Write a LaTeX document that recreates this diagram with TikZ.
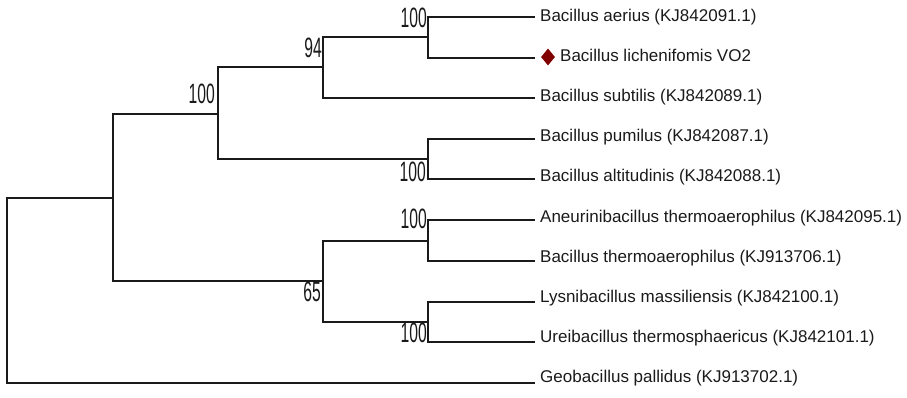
\documentclass[tikz,border=0pt]{standalone}
\usepackage{fontspec}
\setmainfont{Liberation Sans}
\usetikzlibrary{shapes.geometric}
\definecolor{ink}{HTML}{1A1A1A}
\definecolor{mark}{HTML}{800000}
\tikzset{
  branch/.style={draw=ink, line width=2pt, line cap=rect},
  taxon/.style={anchor=base west, inner sep=0pt, text=ink, font=\fontsize{17}{20}\selectfont},
  boot/.style={anchor=east, inner sep=0pt, text=ink, xscale=0.56, font=\fontsize{28}{28}\selectfont},
  gem/.style={diamond, fill=mark, inner sep=0pt, minimum width=14pt, minimum height=17pt}
}
\begin{document}
\begin{tikzpicture}[x=1pt,y=-1pt]
\useasboundingbox (0,0) rectangle (907,397);
% leaf tips
\coordinate (l0) at (534,17);
\coordinate (l1) at (534,58);
\coordinate (l2) at (534,98);
\coordinate (l3) at (534,139);
\coordinate (l4) at (534,179);
\coordinate (l5) at (534,220);
\coordinate (l6) at (534,261);
\coordinate (l7) at (534,302);
\coordinate (l8) at (534,342);
\coordinate (l9) at (534,383);
% internal nodes
\coordinate (D) at (428,37);
\coordinate (C) at (323,67);
\coordinate (E) at (428,159);
\coordinate (B) at (218,114);
\coordinate (G) at (428,241);
\coordinate (H) at (428,322);
\coordinate (F) at (323,281);
\coordinate (A) at (113,198);
\coordinate (R) at (7,290);
% branches
\draw[branch] (D) |- (l0);
\draw[branch] (D) |- (l1);
\draw[branch] (C) |- (D);
\draw[branch] (C) |- (l2);
\draw[branch] (E) |- (l3);
\draw[branch] (E) |- (l4);
\draw[branch] (B) |- (C);
\draw[branch] (B) |- (E);
\draw[branch] (G) |- (l5);
\draw[branch] (G) |- (l6);
\draw[branch] (H) |- (l7);
\draw[branch] (H) |- (l8);
\draw[branch] (F) |- (G);
\draw[branch] (F) |- (H);
\draw[branch] (A) |- (B);
\draw[branch] (A) |- (F);
\draw[branch] (R) |- (A);
\draw[branch] (R) |- (l9);
% taxa
\node[taxon] (t0) at (540,21) {Bacillus aerius (KJ842091.1)};
\node[gem] (m1) at (548,57) {};
\node[taxon] (t1) at (560,61) {Bacillus lichenifomis VO2};
\node[taxon] (t2) at (540,101) {Bacillus subtilis (KJ842089.1)};
\node[taxon] (t3) at (540,141) {Bacillus pumilus (KJ842087.1)};
\node[taxon] (t4) at (540,181) {Bacillus altitudinis (KJ842088.1)};
\node[taxon] (t5) at (540,222) {Aneurinibacillus thermoaerophilus (KJ842095.1)};
\node[taxon] (t6) at (540,262) {Bacillus thermoaerophilus (KJ913706.1)};
\node[taxon] (t7) at (540,302) {Lysnibacillus massiliensis (KJ842100.1)};
\node[taxon] (t8) at (540,342) {Ureibacillus thermosphaericus (KJ842101.1)};
\node[taxon] (t9) at (540,382) {Geobacillus pallidus (KJ913702.1)};
% bootstrap values
\node[boot] (bD) at (427,18) {100};
\node[boot] (bC) at (322,48) {94};
\node[boot] (bB) at (215,94) {100};
\node[boot] (bE) at (426,171.5) {100};
\node[boot] (bG) at (427,219) {100};
\node[boot] (bF) at (321,292) {65};
\node[boot] (bH) at (427,332.5) {100};
\end{tikzpicture}
\end{document}
